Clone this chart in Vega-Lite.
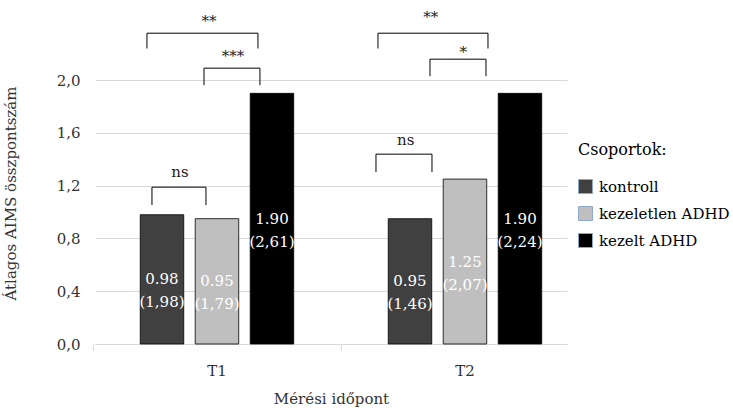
{
  "$schema": "https://vega.github.io/schema/vega-lite/v6.json",
  "width": 472,
  "height": 343,
  "autosize": "none",
  "padding": {"left": 95, "top": 1, "right": 166, "bottom": 69},
  "background": "white",
  "config": {
    "font": "DejaVu Serif",
    "view": {"stroke": null},
    "axis": {"labelColor": "#333333", "titleColor": "#333333", "titleFontWeight": "normal", "labelFont": "DejaVu Serif", "titleFont": "DejaVu Serif"},
    "legend": {"labelFont": "DejaVu Serif", "titleFont": "DejaVu Serif"},
    "text": {"font": "DejaVu Serif"}
  },
  "datasets": {
    "bars": [
      {"time": "T1", "group": "kontroll", "mean": 0.98, "label": "0.98\n(1,98)"},
      {"time": "T1", "group": "kezeletlen ADHD", "mean": 0.95, "label": "0.95\n(1,79)"},
      {"time": "T1", "group": "kezelt ADHD", "mean": 1.90, "label": "1.90\n(2,61)"},
      {"time": "T2", "group": "kontroll", "mean": 0.95, "label": "0.95\n(1,46)"},
      {"time": "T2", "group": "kezeletlen ADHD", "mean": 1.25, "label": "1.25\n(2,07)"},
      {"time": "T2", "group": "kezelt ADHD", "mean": 1.90, "label": "1.90\n(2,24)"}
    ],
    "brackets": [
      {"time": "T1", "b": "T1a", "o": 1, "pos": -0.274, "y": 2.24},
      {"time": "T1", "b": "T1a", "o": 2, "pos": -0.274, "y": 2.356},
      {"time": "T1", "b": "T1a", "o": 3, "pos": 1.744, "y": 2.356},
      {"time": "T1", "b": "T1a", "o": 4, "pos": 1.744, "y": 2.24},
      {"time": "T1", "b": "T1b", "o": 1, "pos": 0.763, "y": 1.962},
      {"time": "T1", "b": "T1b", "o": 2, "pos": 0.763, "y": 2.091},
      {"time": "T1", "b": "T1b", "o": 3, "pos": 1.78, "y": 2.091},
      {"time": "T1", "b": "T1b", "o": 4, "pos": 1.78, "y": 1.962},
      {"time": "T1", "b": "T1c", "o": 1, "pos": -0.183, "y": 1.053},
      {"time": "T1", "b": "T1c", "o": 2, "pos": -0.183, "y": 1.189},
      {"time": "T1", "b": "T1c", "o": 3, "pos": 0.799, "y": 1.189},
      {"time": "T1", "b": "T1c", "o": 4, "pos": 0.799, "y": 1.053},
      {"time": "T2", "b": "T2a", "o": 1, "pos": -0.583, "y": 2.24},
      {"time": "T2", "b": "T2a", "o": 2, "pos": -0.583, "y": 2.356},
      {"time": "T2", "b": "T2a", "o": 3, "pos": 1.417, "y": 2.356},
      {"time": "T2", "b": "T2a", "o": 4, "pos": 1.417, "y": 2.24},
      {"time": "T2", "b": "T2b", "o": 1, "pos": 0.363, "y": 2.03},
      {"time": "T2", "b": "T2b", "o": 2, "pos": 0.363, "y": 2.159},
      {"time": "T2", "b": "T2b", "o": 3, "pos": 1.381, "y": 2.159},
      {"time": "T2", "b": "T2b", "o": 4, "pos": 1.381, "y": 2.03},
      {"time": "T2", "b": "T2c", "o": 1, "pos": -0.619, "y": 1.303},
      {"time": "T2", "b": "T2c", "o": 2, "pos": -0.619, "y": 1.439},
      {"time": "T2", "b": "T2c", "o": 3, "pos": 0.399, "y": 1.439},
      {"time": "T2", "b": "T2c", "o": 4, "pos": 0.399, "y": 1.303}
    ],
    "sig": [
      {"time": "T1", "pos": 0.854, "y": 2.45, "txt": "**"},
      {"time": "T1", "pos": 1.29, "y": 2.18, "txt": "***"},
      {"time": "T1", "pos": 0.326, "y": 1.303, "txt": "ns"},
      {"time": "T2", "pos": 0.375, "y": 2.48, "txt": "**"},
      {"time": "T2", "pos": 0.968, "y": 2.215, "txt": "*"},
      {"time": "T2", "pos": -0.079, "y": 1.545, "txt": "ns"}
    ]
  },
  "layer": [
    {
      "data": {"name": "bars"},
      "mark": {"type": "bar", "stroke": "#000000", "strokeWidth": 0.8},
      "encoding": {
        "x": {
          "field": "time", "type": "nominal",
          "scale": {"paddingInner": 0.3, "paddingOuter": 0.1016, "align": 0.698},
          "axis": {
            "title": "Mérési időpont", "labelAngle": 0, "ticks": false,
            "domainColor": "#d9d9d9",
            "labelFontSize": 15, "labelPadding": 19, "titleFontSize": 15,
            "titlePadding": 13
          }
        },
        "xOffset": {
          "field": "group", "type": "nominal",
          "sort": ["kontroll", "kezeletlen ADHD", "kezelt ADHD"],
          "scale": {"paddingInner": 0.209, "paddingOuter": 0.183}
        },
        "y": {
          "field": "mean", "type": "quantitative",
          "scale": {"domain": [0, 2.6], "nice": false},
          "axis": {
            "values": [0, 0.4, 0.8, 1.2, 1.6, 2.0],
            "labelExpr": "replace(format(datum.value, '.1f'), '.', ',')",
            "title": "Átlagos AIMS összpontszám",
            "grid": true, "gridColor": "#d9d9d9", "domain": false, "ticks": false,
            "labelPadding": 15, "labelFontSize": 15, "titleFontSize": 15,
            "titleX": -77, "titleY": 192
          }
        },
        "color": {
          "field": "group", "type": "nominal",
          "sort": ["kontroll", "kezeletlen ADHD", "kezelt ADHD"],
          "scale": {"range": ["#404040", "#bfbfbf", "#000000"]},
          "legend": {
            "title": "Csoportok:", "orient": "none", "legendX": 483, "legendY": 141,
            "titleFontSize": 16, "titleFontWeight": "normal", "titlePadding": 21,
            "titleColor": "#000000", "labelColor": "#000000",
            "labelFontSize": 15, "symbolType": "square", "symbolSize": 196,
            "symbolStrokeColor": "#8ea9c8", "symbolStrokeWidth": 1,
            "rowPadding": 8, "labelOffset": 6
          }
        }
      }
    },
    {
      "data": {"name": "bars"},
      "mark": {"type": "text", "color": "#ffffff", "fontSize": 15, "lineHeight": 23, "baseline": "middle", "align": "center", "lineBreak": "\n"},
      "encoding": {
        "x": {"field": "time", "type": "nominal", "axis": null},
        "xOffset": {
          "field": "group", "type": "nominal",
          "sort": ["kontroll", "kezeletlen ADHD", "kezelt ADHD"],
          "scale": {"type": "point", "padding": 0.578}
        },
        "y": {"field": "mean", "type": "quantitative", "scale": {"domain": [0, 5.2], "nice": false}, "axis": null},
        "text": {"field": "label"}
      }
    },
    {
      "data": {"name": "brackets"},
      "mark": {"type": "line", "color": "#000000", "strokeWidth": 1},
      "encoding": {
        "x": {"field": "time", "type": "nominal", "axis": {"orient": "bottom", "labels": false, "domain": false, "grid": false, "title": null, "tickOffset": -124, "tickColor": "#d9d9d9", "tickSize": 6}},
        "xOffset": {"field": "pos", "type": "quantitative", "scale": {"domain": [-0.579, 2.577], "range": [0, 173.6], "zero": false, "nice": false}},
        "y": {"field": "y", "type": "quantitative", "scale": {"domain": [0, 2.6], "nice": false}, "axis": null},
        "detail": {"field": "b"},
        "order": {"field": "o"}
      }
    },
    {
      "data": {"name": "sig"},
      "mark": {"type": "text", "color": "#222222", "fontSize": 15, "baseline": "middle"},
      "encoding": {
        "x": {"field": "time", "type": "nominal", "axis": null},
        "xOffset": {"field": "pos", "type": "quantitative", "scale": {"domain": [-0.579, 2.577], "range": [0, 173.6], "zero": false, "nice": false}},
        "y": {"field": "y", "type": "quantitative", "scale": {"domain": [0, 2.6], "nice": false}, "axis": null},
        "text": {"field": "txt"}
      }
    }
  ],
  "resolve": {"scale": {"y": "independent", "xOffset": "independent"}, "axis": {"x": "independent"}}
}
